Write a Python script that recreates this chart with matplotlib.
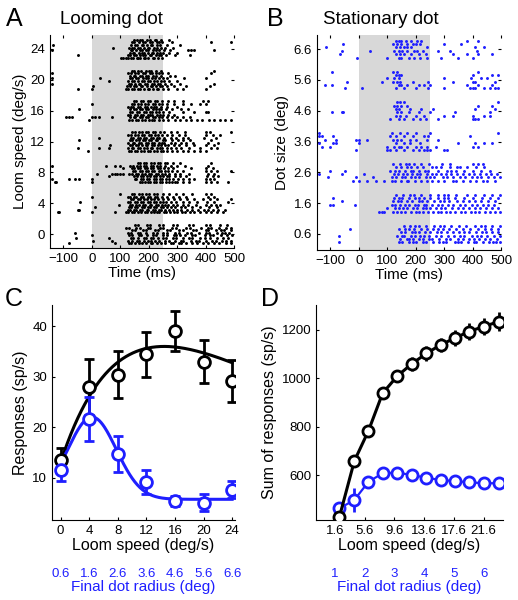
import numpy as np
import matplotlib
matplotlib.use("Agg")
import matplotlib.pyplot as plt

plt.rcParams['font.family'] = ['Liberation Sans', 'DejaVu Sans']

BLUE = '#1f1fff'
SHADE = '#d8d8d8'

# ---- panel A: looming dot rasters, spike times (ms) per trial, bottom trial first
loom_speeds_raster = [0, 4, 8, 12, 16, 20, 24]
loom_24 = ["104 109 121 126 139 144 158 161 170 183 188 199 214 219 233 246",
           "-50 128 135 150 156 171 180 186 203 209 224 238 245 262 292 345",
           "133 145 149 166 178 184 197 211 216 231 240 251 270 301",
           "-140 138 142 157 170 175 192 199 215 227 236 255 276 340 350 360 430",
           "75 130 141 147 163 169 185 196 202 219 230 244 258 286",
           "-135 137 152 158 176 181 194 207 213 228 241 265 311",
           "143 150 166 179 186 203 212 229 236 248 281 420 490",
           "147 159 171 177 194 206 221 227 245 272"]
loom_20 = ["-50 0 121 127 141 148 163 169 184 196 201 215 229 234 251 267 301 319 400",
           "5 125 133 149 157 172 178 193 207 212 226 240 247 264 289 331 415",
           "-140 131 138 152 167 171 188 195 211 218 233 239 256 279 311 430",
           "60 126 143 150 161 177 183 198 205 220 231 244 254 273 299",
           "-140 30 134 140 155 164 179 190 197 213 221 237 249 266 325 400",
           "136 147 152 168 176 192 199 214 227 242 274 291",
           "-140 129 137 153 162 180 187 203 210 226 235 248 269 420",
           "141 150 164 173 189 201 208 225 243 430"]
loom_16 = ["-10 131 140 156 163 178 186 201 213 219 236 250 269 291 309 331 349 371 389 411 429 451 469 490",
           "-90 -80 -70 0 10 25 70 134 147 152 168 177 192 199 216 222 238 247 263 281 301 319 345",
           "129 136 151 158 174 180 197 206 212 229 240 251 269 289",
           "136 142 159 167 183 190 204 213 227 235 249 271 320 360 400 410",
           "-45 133 148 154 170 176 191 199 215 224 238 244 261 281 313 340",
           "127 138 145 161 168 186 193 208 220 226 243 264 301",
           "0 141 149 164 172 188 197 214 221 236 247 263 289 321 350 381 400",
           "149 157 174 181 198 206 223 231 246 269 289 321 390 410"]
loom_12 = ["-15 131 137 152 160 174 183 197 206 220 228 243 251 265 281 299 321 339 361 379 400",
           "-50 25 60 127 140 146 162 168 184 193 207 213 229 240 248 263 277 297 315 341 380 420 440",
           "65 133 141 156 163 178 189 195 211 218 234 242 259 269 289 305 331 359 401 430",
           "129 144 150 166 174 189 197 212 219 235 247 255 277 293 313 331 356 410 445",
           "-45 135 141 157 165 180 186 202 209 224 231 249 259 283 303 321 346 420",
           "25 137 146 161 168 183 192 208 215 231 238 254 277 295 319 339 396 435",
           "129 138 153 161 177 185 200 207 223 233 247 265 283 307 329 401 425 450",
           "141 152 167 176 192 198 214 223 239 255 279 299 326 400 415 490"]
loom_8 = ["-130 -125 0 169 178 186 199 206 220 227 241 248 262 270 281 294 301 319 341 400 420 440 480",
          "-140 -80 -60 -45 0 151 157 172 180 194 201 217 224 239 246 262 271 285 303 319 341 359 401 415 430",
          "60 149 158 174 180 195 203 218 226 240 249 265 271 291 309 331 405 425 445",
          "20 70 80 90 100 110 131 140 156 162 178 187 201 209 225 233 248 257 271 291 311 341 410 430",
          "146 152 168 176 190 199 213 220 236 244 258 267 281 301 321 400 420 440 490",
          "110 141 147 163 171 186 194 209 216 232 239 254 267 284 350 400 425",
          "-140 50 80 100 136 145 160 168 184 191 207 214 229 240 259 277 301 329 410",
          "161 170 185 192 209 217 233 241 256 264 286 309 420"]
loom_4 = ["-120 -115 0 80 121 127 142 149 164 172 187 193 209 217 231 238 254 262 275 289 299 316 329 346 359 381 400 420 440 460",
          "-50 -45 126 133 148 155 170 177 193 199 215 223 237 245 257 273 285 301 315 335 351 373 394 410 425 445 470",
          "10 131 137 153 160 175 182 198 205 220 227 242 251 263 279 293 313 329 351 379 411 440",
          "95 135 143 157 166 180 187 203 209 225 233 247 257 269 287 301 321 339 366 400 420 435 450",
          "-40 129 136 151 158 174 181 196 204 218 226 240 249 261 279 295 319 341 371 404 430 480",
          "137 146 162 169 185 193 208 217 233 251 267 289 309 336 359 391 414 440 490",
          "0 126 134 149 157 173 180 196 205 221 229 247 263 285 305 331 410 430",
          "100 141 150 167 175 192 201 217 229 251 271 297 321 351 400 420"]
loom_0 = ["-80 80 131 137 152 167 175 192 207 213 231 243 259 279 287 305 315 331 351 369 391 409 431 449 471 490",
          "5 70 127 141 159 165 184 197 209 223 236 257 270 293 313 322 349 365 378 401 421 437 457 473 490",
          "-55 60 137 146 163 183 191 209 215 233 249 262 285 296 321 341 352 381 399 414 439 461 479",
          "0 131 142 165 172 193 215 224 251 263 289 297 311 329 353 362 397 415 427 455 477 492",
          "-60 127 139 163 171 192 215 228 251 266 291 306 333 348 377 401 412 441 459 468 481",
          "141 153 181 190 221 233 263 276 307 321 355 367 401 410 437 453 466 490",
          "121 132 157 168 197 206 239 252 283 296 331 345 383 407 419 449 471 490",
          "151 163 193 205 237 251 287 299 341 355 401 414 451 474"]
loom_rows = [loom_0, loom_4, loom_8, loom_12, loom_16, loom_20, loom_24]

# ---- panel B: stationary dot rasters
dot_sizes_raster = [0.6, 1.6, 2.6, 3.6, 4.6, 5.6, 6.6]
stat_66 = ["-5 100 140 150 175 195 215 240 290 350 400",
           "-65 130 145 160 185 210 235 330 380 420 470",
           "-60 40 125 140 152 168 195 205 225 280 320 415",
           "-115 130 145 160 170 185 240 410 440",
           "-55 120 135 150 170 190 200 215 300 360",
           "130 140 150 165 185 205 220 380 420"]
stat_56 = ["-50 10 130 160 200 245 300 390 400 410 440 460 480 490",
           "-120 -95 140 150 170 210 230 250 380 420 470",
           "-40 80 120 135 145 190 245 330 400 410 480",
           "100 125 140 300 395 430 450",
           "130 140 150 400 470 490",
           "-95 120 135 420"]
stat_46 = ["110 140 160 190 215 235 280 400 410 420",
           "130 145 165 200 230 300 330 400 440 460",
           "-95 -60 -55 135 150 175 210 250 340 460",
           "130 140 180 220 260 410 480",
           "125 135 150 170 420 470",
           "135 145 160 490"]
stat_36 = ["-10 100 110 130 160 190 210 230 240 250 300 310",
           "-130 -100 100 125 140 150 170 200 220 240 270 400 420",
           "-140 -90 -80 0 130 160 180 215 350 410 440 470",
           "-120 -80 -10 0 30 120 135 150 180 200 240 280",
           "-140 -130 -90 110 130 160 190 230 245 390",
           "-140 115 145 170 200 250 490"]
stat_26 = ["-20 0 30 60 90 118 126 147 168 174 196 219 241 257 278 301 330 341 367 390 412 436 451 480",
           "-110 -10 50 115 131 152 163 184 197 213 235 251 266 295 309 330 355 372 398 415 428 455 477 495",
           "-140 -60 20 125 138 157 171 186 206 215 239 258 271 290 305 325 347 365 386 405 426 447 466 485",
           "-100 -50 110 127 142 161 183 192 210 232 244 277 310 324 341 370 401 430 462",
           "130 147 171 182 203 225 256 271 290 320 344 357 380 413 440",
           "120 144 166 177 195 218 247 292 320 401 420 435"]
stat_16 = ["70 80 90 121 133 150 164 183 201 210 227 244 262 279 290 307 322 339 361 375 394 408 421 442 461 480 495",
           "100 128 140 156 171 191 203 224 238 250 271 290 303 327 350 366 388 409 426 447 469 490",
           "-100 -90 -15 115 127 145 161 177 196 209 228 236 256 277 291 313 332 356 373 397 415 437 455 475",
           "-60 120 138 149 171 186 213 221 239 264 285 298 318 344 365 388 408 430 455 480",
           "-90 125 143 153 176 199 212 229 252 279 298 314 337 370 401 433 460 490",
           "130 157 180 193 220 249 277 299 312 342 381 409 439 470 495"]
stat_06 = ["-70 142 153 178 189 201 224 236 262 281 296 308 337 349 361 384 405 412 437 458 471 484 495",
           "145 168 176 191 211 226 247 258 283 306 320 348 365 388 406 421 445 463 486",
           "-70 135 151 160 185 197 216 229 246 272 289 315 333 355 370 398 417 429 452 477 495",
           "150 164 187 199 213 233 249 274 289 311 330 354 369 388 412 433 449 468 489",
           "-30 140 161 178 195 219 240 262 279 296 317 343 367 391 418 444 465 490",
           "160 181 199 212 235 263 287 298 324 351 377 409 428 443 469 495"]
stat_rows = [stat_06, stat_16, stat_26, stat_36, stat_46, stat_56, stat_66]

# ---- panel C: tuning
loom_speed = [0, 4, 8, 12, 16, 20, 24]
radius_labels_c = ['0.6', '1.6', '2.6', '3.6', '4.6', '5.6', '6.6']
loom_resp = [13.5, 28.0, 30.4, 34.4, 39.0, 33.0, 29.2]
loom_err = [2.4, 5.5, 4.7, 4.5, 4.0, 4.3, 4.2]
stat_resp = [11.5, 21.6, 14.7, 9.1, 5.3, 5.0, 7.6]
stat_err = [2.2, 4.4, 3.5, 2.4, 1.0, 1.7, 1.7]
# fitted curves: loom  c + a*x*exp(-x/b), stationary  base + amp*gauss
loom_fit = dict(c=13.0, a=4.31, b=14.5)
stat_fit = dict(base=5.7, amp=16.3, mu=4.4, sd=3.4)

# ---- panel D: summed responses
sum_x = [2.2, 4.2, 6.1, 8.0, 10.0, 11.9, 13.9, 15.8, 17.7, 19.6, 21.6, 23.6]
sum_loom = [428, 658, 783, 938, 1010, 1059, 1103, 1138, 1166, 1193, 1214, 1234]
sum_loom_err = [12, 18, 20, 24, 26, 28, 30, 30, 32, 34, 36, 40]
sum_stat = [462, 497, 572, 607, 610, 600, 589, 579, 575, 570, 566, 566]
sum_stat_err = [8, 48, 12, 8, 8, 8, 8, 8, 8, 8, 8, 8]
d_ticks = [1.6, 5.6, 9.6, 13.6, 17.6, 21.6]
d_tick_labels = ['1.6', '5.6', '9.6', '13.6', '17.6', '21.6']
radius_labels_d = ['1', '2', '3', '4', '5', '6']

W, H = 518, 600
fig = plt.figure(figsize=(W / 100, H / 100), dpi=100)


def rect(l, t, r, b):
    return [l / W, 1 - b / H, (r - l) / W, (b - t) / H]


def style(ax, size):
    for s in ['top', 'right']:
        ax.spines[s].set_visible(False)
    ax.tick_params(direction='in', length=2.5, labelsize=size, width=0.8)


def raster(ax, rows, centers, step, color):
    xs, ys = [], []
    for rows_c, yc in zip(rows, centers):
        n = len(rows_c)
        for k, trial in enumerate(rows_c):
            ts = [float(v) for v in trial.split()]
            xs += ts
            ys += [yc + (k - (n - 1) / 2) * step] * len(ts)
    ax.axvspan(0, 250, color=SHADE, lw=0, zorder=0)
    ax.scatter(xs, ys, s=4.5, c=color, marker='o', linewidths=0, zorder=2)
    ax.set_xlim(-147, 500)
    ax.set_xticks([-100, 0, 100, 200, 300, 400, 500])
    ax.set_xticklabels(['\u2212100', '0', '100', '200', '300', '400', '500'])
    ax.set_xlabel('Time (ms)', fontsize=11, labelpad=1)
    ax.tick_params(top=True, right=True)


# A
axA = fig.add_axes(rect(50, 35, 234, 248))
style(axA, 9.5)
raster(axA, loom_rows, loom_speeds_raster, 0.34, 'black')
axA.set_ylim(-1.8, 25.8)
axA.set_yticks(loom_speeds_raster)
axA.set_ylabel('Loom speed (deg/s)', fontsize=11, labelpad=2)
fig.text(14 / W, 1 - 19 / H, 'A', fontsize=18, ha='center', va='center')
fig.text(60 / W, 1 - 20 / H, 'Looming dot', fontsize=13.5, ha='left', va='center')

# B
axB = fig.add_axes(rect(317, 35, 501, 250))
style(axB, 9.5)
raster(axB, stat_rows, dot_sizes_raster, 0.11, BLUE)
axB.set_ylim(0.08, 7.06)
axB.set_yticks(dot_sizes_raster)
axB.set_yticklabels([f'{v:.1f}' for v in dot_sizes_raster])
axB.set_ylabel('Dot size (deg)', fontsize=11, labelpad=3)
fig.text(275 / W, 1 - 19 / H, 'B', fontsize=18, ha='center', va='center')
fig.text(323 / W, 1 - 20 / H, 'Stationary dot', fontsize=13.5, ha='left', va='center')

# C
axC = fig.add_axes(rect(52, 305, 235, 520))
style(axC, 9.5)
xx = np.linspace(0, 24, 200)
loom_curve = loom_fit['c'] + loom_fit['a'] * xx * np.exp(-xx / loom_fit['b'])
stat_curve = stat_fit['base'] + stat_fit['amp'] * np.exp(-(xx - stat_fit['mu']) ** 2 / (2 * stat_fit['sd'] ** 2))
axC.plot(xx, loom_curve, color='black', lw=2.2, zorder=2)
axC.plot(xx, stat_curve, color=BLUE, lw=2.2, zorder=2)
axC.errorbar(loom_speed, loom_resp, yerr=loom_err, fmt='o', color='black', mfc='white',
             mec='black', ms=8.5, mew=2, elinewidth=2, capsize=3.5, capthick=2, zorder=3)
axC.errorbar(loom_speed, stat_resp, yerr=stat_err, fmt='o', color=BLUE, mfc='white',
             mec=BLUE, ms=8.5, mew=2, elinewidth=2, capsize=3.5, capthick=2, zorder=3)
axC.set_xlim(-1.2, 24.4)
axC.set_ylim(1.6, 44.2)
axC.set_xticks(loom_speed)
axC.set_yticks([10, 20, 30, 40])
axC.set_xlabel('Loom speed (deg/s)', fontsize=11.5, labelpad=1)
axC.set_ylabel('Responses (sp/s)', fontsize=11.5, labelpad=3)
secC = axC.secondary_xaxis(-0.215)
secC.spines['bottom'].set_visible(False)
secC.set_xticks(loom_speed)
secC.set_xticklabels(radius_labels_c)
secC.tick_params(length=0, labelsize=9.5, labelcolor=BLUE, pad=1)
secC.set_xlabel('Final dot radius (deg)', fontsize=11, color=BLUE, labelpad=0)
fig.text(14 / W, 1 - 299 / H, 'C', fontsize=18, ha='center', va='center')

# D
axD = fig.add_axes(rect(316, 305, 503, 520))
style(axD, 9.5)
axD.errorbar(sum_x, sum_stat, yerr=sum_stat_err, fmt='-o', color=BLUE, mfc='white',
             mec=BLUE, ms=8, mew=2, lw=1.6, elinewidth=2, capsize=0, zorder=2)
axD.errorbar(sum_x, sum_loom, yerr=sum_loom_err, fmt='-o', color='black', mfc='white',
             mec='black', ms=8, mew=2, lw=2.2, elinewidth=2, capsize=0, zorder=3)
axD.set_xlim(-0.96, 24.2)
axD.set_ylim(414, 1303)
axD.set_xticks(d_ticks)
axD.set_xticklabels(d_tick_labels)
axD.set_yticks([600, 800, 1000, 1200])
axD.set_xlabel('Loom speed (deg/s)', fontsize=11.5, labelpad=1)
axD.set_ylabel('Sum of responses (sp/s)', fontsize=11.5, labelpad=3)
secD = axD.secondary_xaxis(-0.215)
secD.spines['bottom'].set_visible(False)
secD.set_xticks(d_ticks)
secD.set_xticklabels(radius_labels_d)
secD.tick_params(length=0, labelsize=9.5, labelcolor=BLUE, pad=1)
secD.set_xlabel('Final dot radius (deg)', fontsize=11, color=BLUE, labelpad=0)
fig.text(270 / W, 1 - 299 / H, 'D', fontsize=18, ha='center', va='center')

fig.savefig('out.png', dpi=100)
